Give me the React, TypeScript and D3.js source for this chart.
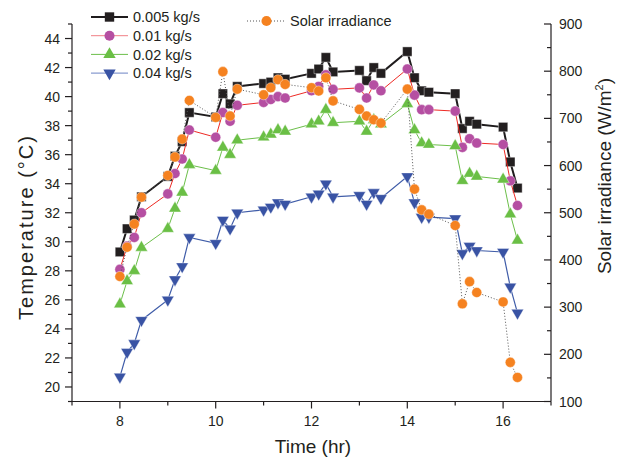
import React from "react";
import * as d3 from "d3";

// sampling times (hr)
const times = [
  8, 8.15, 8.3, 8.45, 9, 9.15, 9.3, 9.45, 10, 10.15, 10.3, 10.45,
  11, 11.15, 11.3, 11.45, 12, 12.15, 12.3, 12.45, 13, 13.15, 13.3, 13.45,
  14, 14.15, 14.3, 14.45, 15, 15.15, 15.3, 15.45, 16, 16.15, 16.3,
];

// outlet temperature (°C) per mass flow rate
const temp005 = [
  29.3, 30.9, 31.5, 33.1, 34.5, 35.9, 36.9, 38.9, 38.6, 40.2, 39.5, 40.7,
  40.9, 41.0, 41.3, 41.2, 41.6, 41.9, 42.7, 41.7, 41.8, 41.1, 42.0, 41.6,
  43.1, 41.3, 40.4, 40.3, 40.2, 37.8, 38.3, 38.1, 37.9, 35.5, 33.7,
];
const temp01 = [
  28.1, 29.7, 30.3, 32.0, 33.3, 34.7, 35.7, 37.7, 37.2, 38.9, 38.3, 39.4,
  39.6, 39.8, 40.0, 39.9, 40.4, 40.7, 41.5, 40.5, 40.6, 39.9, 40.8, 40.4,
  41.9, 40.1, 39.1, 39.1, 39.0, 36.5, 37.1, 36.8, 36.7, 34.2, 32.5,
];
const temp02 = [
  25.7, 27.3, 28.0, 29.6, 30.9, 32.3, 33.4, 35.3, 34.9, 36.5, 36.0, 37.0,
  37.2, 37.4, 37.7, 37.6, 38.1, 38.3, 39.1, 38.2, 38.3, 37.6, 38.4, 38.1,
  39.5, 37.7, 36.8, 36.7, 36.6, 34.2, 34.7, 34.5, 34.3, 31.9, 30.1,
];
const temp04 = [
  20.7, 22.4, 23.0, 24.6, 26.0, 27.4, 28.3, 30.3, 29.9, 31.5, 30.9, 32.0,
  32.2, 32.4, 32.7, 32.6, 33.1, 33.3, 34.0, 33.1, 33.2, 32.6, 33.4, 33.0,
  34.5, 32.7, 31.7, 31.7, 31.6, 29.2, 29.7, 29.4, 29.3, 26.9, 25.1,
];

// solar irradiance (W/m2)
const irradiance = [
  365, 427, 476, 533, 579, 618, 656, 738, 702, 799, 705, 762,
  750, 765, 782, 772, 765, 758, 786, 737, 719, 705, 697, 690,
  762, 550, 506, 497, 473, 307, 354, 331, 311, 183, 151,
];

const tempTicks = [20, 22, 24, 26, 28, 30, 32, 34, 36, 38, 40, 42, 44];
const irrTicks = [100, 200, 300, 400, 500, 600, 700, 800, 900];
const timeTicks = [8, 10, 12, 14, 16];

const flowLabels = ["0.005 kg/s", "0.01 kg/s", "0.02 kg/s", "0.04 kg/s"];

const W = 623;
const H = 459;
const left = 72;
const right = 551;
const top = 24;
const bottom = 401.5;
const font = "'Liberation Sans', Arial, sans-serif";

export default function App() {
  const x = d3.scaleLinear().domain([7, 17]).range([left, right]);
  const y = d3.scaleLinear().domain([19, 45]).range([bottom, top]);
  const yR = d3.scaleLinear().domain([100, 900]).range([bottom, top]);

  const series = [
    { label: flowLabels[0], values: temp005, line: "#1f1c1d", width: 2, fill: "#231f20", symbol: d3.symbolSquare, size: 88, rot: 0, legendLine: "#1f1c1d" },
    { label: flowLabels[1], values: temp01, line: "#ee2a24", width: 1, fill: "#b54fa2", symbol: d3.symbolCircle, size: 80, rot: 0, legendLine: "#f07f86" },
    { label: flowLabels[2], values: temp02, line: "#6cbf4a", width: 1, fill: "#6abf45", symbol: d3.symbolTriangle, size: 66, rot: 0, legendLine: "#6cbf4a" },
    { label: flowLabels[3], values: temp04, line: "#3f5ca8", width: 1.2, fill: "#3953a4", symbol: d3.symbolTriangle, size: 66, rot: 180, legendLine: "#8a9cd0" },
  ];

  const orange = "#f58220";
  const circle = d3.symbol().type(d3.symbolCircle).size(80)() as string;

  const lineGen = d3
    .line<number>()
    .x((_, i) => x(times[i]))
    .y((d) => y(d));
  const irrLine = d3
    .line<number>()
    .x((_, i) => x(times[i]))
    .y((d) => yR(d));

  const tempMinor = d3.range(19, 46, 1);
  const irrMinor = d3.range(100, 901, 50);
  const timeMinor = d3.range(7, 18, 1);

  return (
    <svg width={W} height={H} style={{ position: "absolute", left: 0, top: 0, background: "#fff" }} fontFamily={font}>
      {/* axes */}
      <g stroke="#231f20" strokeWidth={1.2} fill="none">
        <line x1={left} x2={left} y1={top} y2={bottom} />
        <line x1={right} x2={right} y1={top} y2={bottom} />
        <line x1={left} x2={right} y1={bottom} y2={bottom} />
        {tempMinor.map((t) => (
          <line key={"tl" + t} x1={left} x2={left - (t % 2 === 0 ? 7 : 4)} y1={y(t)} y2={y(t)} />
        ))}
        {irrMinor.map((t) => (
          <line key={"ir" + t} x1={right} x2={right - (t % 100 === 0 ? 7 : 4)} y1={yR(t)} y2={yR(t)} />
        ))}
        {timeMinor.map((t) => (
          <line key={"xt" + t} x1={x(t)} x2={x(t)} y1={bottom} y2={bottom + (t % 2 === 0 ? 7 : 4)} />
        ))}
      </g>
      <g fontSize={14} fill="#231f20">
        {tempTicks.map((t) => (
          <text key={t} x={left - 12} y={y(t)} dy="0.36em" textAnchor="end">{t}</text>
        ))}
        {irrTicks.map((t) => (
          <text key={t} x={right + 8} y={yR(t)} dy="0.36em" textAnchor="start">{t}</text>
        ))}
        {timeTicks.map((t) => (
          <text key={t} x={x(t)} y={bottom + 24} textAnchor="middle">{t}</text>
        ))}
      </g>
      <g fontSize={19} fill="#231f20">
        <text x={313} y={453} textAnchor="middle">Time (hr)</text>
        <text transform="translate(33,228) rotate(-90)" textAnchor="middle" fontSize={20} textLength={184} lengthAdjust="spacing">Temperature (°C)</text>
        <text transform="translate(611,176) rotate(-90)" textAnchor="middle">
          Solar irradiance (W/m<tspan fontSize={11} dy="-8">2</tspan><tspan dy="8">)</tspan>
        </text>
      </g>

      {/* temperature series */}
      {series.map((s) => (
        <g key={s.label}>
          <path d={lineGen(s.values) as string} fill="none" stroke={s.line} strokeWidth={s.width} />
          {s.values.map((v, i) => (
            <path
              key={i}
              d={d3.symbol().type(s.symbol).size(s.size)() as string}
              transform={`translate(${x(times[i])},${y(v)}) rotate(${s.rot})`}
              fill={s.fill}
              stroke="#fff"
              strokeWidth={0.4}
            />
          ))}
        </g>
      ))}

      {/* irradiance */}
      <path d={irrLine(irradiance) as string} fill="none" stroke="#555" strokeWidth={1} strokeDasharray="1,2" />
      {irradiance.map((v, i) => (
        <path key={i} d={circle} transform={`translate(${x(times[i])},${yR(v)})`} fill={orange} stroke="#fff" strokeWidth={0.4} />
      ))}

      {/* legend */}
      <g fontSize={14.5} fill="#231f20">
        {series.map((s, i) => {
          const ly = 17 + i * 18.7;
          return (
            <g key={s.label}>
              <line x1={91} x2={128} y1={ly} y2={ly} stroke={s.legendLine} strokeWidth={s.width} />
              <path
                d={d3.symbol().type(s.symbol).size(s.size)() as string}
                transform={`translate(109.5,${ly}) rotate(${s.rot})`}
                fill={s.fill}
              />
              <text x={133} y={ly} dy="0.36em">{s.label}</text>
            </g>
          );
        })}
        <line x1={247} x2={284} y1={21} y2={21} stroke="#555" strokeWidth={1} strokeDasharray="1,2" />
        <path d={circle} transform="translate(266.5,21)" fill={orange} />
        <text x={290} y={21} dy="0.36em">Solar irradiance</text>
      </g>
    </svg>
  );
}
